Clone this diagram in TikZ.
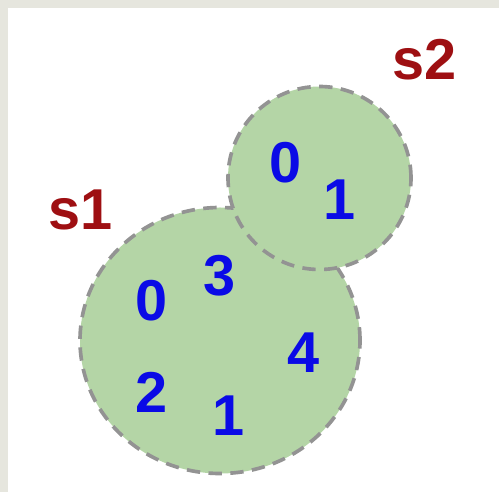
\documentclass[tikz,border=0pt]{standalone}
\usepackage{fontspec}
\setmainfont{Liberation Sans}
\usepackage{xcolor}
\usepackage{tikz}
\usetikzlibrary{positioning}
\definecolor{SGreen}{HTML}{B4D5A6}
\definecolor{SGray}{HTML}{939393}
\definecolor{SBlue}{HTML}{0A0AE6}
\definecolor{SRed}{HTML}{9E0F12}
\definecolor{SFrame}{HTML}{E6E6DE}

\begin{document}
\begin{tikzpicture}[every node/.style={align=center, inner sep=0pt},
  setarea/.style={fill=SGreen, draw=SGray, line width=2.6pt, dash pattern=on 9.5pt off 6pt},
  setname/.style={font=\fontsize{41}{41}\selectfont\bfseries, text=SRed},
  elem/.style={font=\fontsize{41}{41}\selectfont\bfseries, text=SBlue}]
  \useasboundingbox (0,0) rectangle (12.475,12.3);
  \fill[white] (0,0) rectangle (12.475,12.3);
  % frame edges, top and left
  \fill[SFrame] (0,12.1) rectangle (12.475,12.3);
  \fill[SFrame] (0,0) rectangle (0.2,12.3);

  % set s1
  \path[setarea] (5.5,3.7875) ellipse [x radius=3.5, y radius=3.325];
  \node[setname] (s1name) at (2.025,7.05) {s1};
  \node[elem] (s1e0) at (3.8,4.775) {0};
  \node[elem] (s1e3) at (5.5,5.4) {3};
  \node[elem] (s1e4) at (7.6,3.475) {4};
  \node[elem] (s1e2) at (3.8,2.5) {2};
  \node[elem] (s1e1) at (5.725,1.9) {1};

  % set s2, on top of s1
  \path[setarea] (7.9875,7.85) circle [radius=2.2875];
  \node[setname] (s2name) at (10.625,10.8) {s2};
  \node[elem] (s2e0) at (7.15,8.225) {0};
  \node[elem] (s2e1) at (8.5,7.3) {1};
\end{tikzpicture}
\end{document}
